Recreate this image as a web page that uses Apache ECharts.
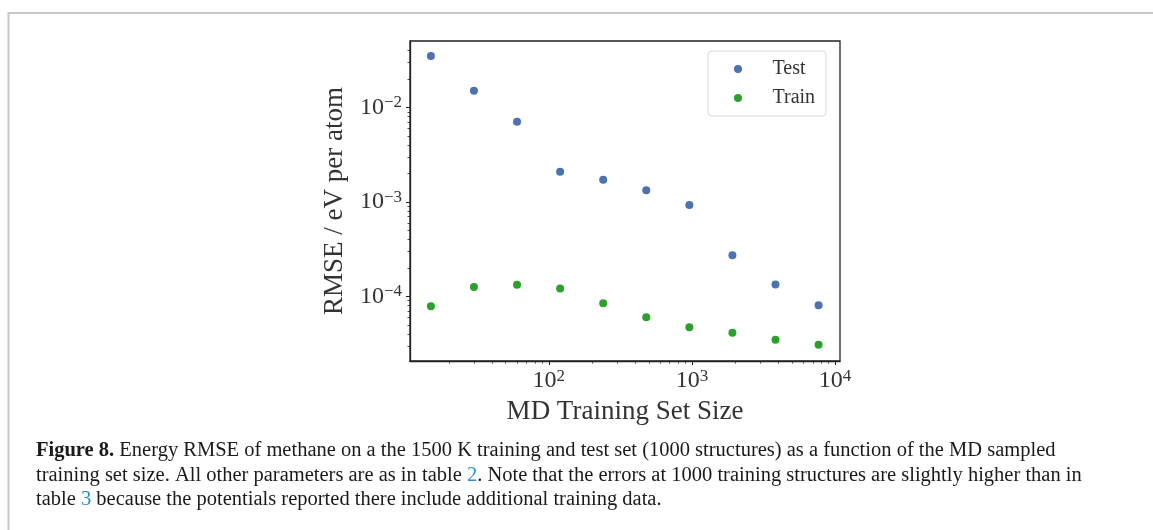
<!DOCTYPE html>
<html><head><meta charset="utf-8">
<script src="https://cdn.jsdelivr.net/npm/echarts@6/dist/echarts.min.js"></script>
<style>html,body{margin:0;padding:0;background:#fff}#c{width:1153px;height:530px}</style>
</head><body><div id="c"></div>
<script>
const trainingSizes = [15, 30, 60, 120, 240, 480, 960, 1920, 3840, 7680];
const testRMSE = [0.0352, 0.0150, 0.00706, 0.00209, 0.00172, 0.00133, 0.00093, 0.000273, 0.000134, 0.0000807];
const trainRMSE = [0.0000787, 0.000126, 0.000133, 0.000121, 0.0000847, 0.0000603, 0.0000472, 0.0000413, 0.0000348, 0.0000308];
const seriesNames = ['Test', 'Train'];
const xMajorTicks = [100, 1000, 10000];
const xMinorTicks = [20, 30, 40, 50, 60, 70, 80, 90, 200, 300, 400, 500, 600, 700, 800, 900, 2000, 3000, 4000, 5000, 6000, 7000, 8000, 9000];
const yMajorTicks = [1e-4, 1e-3, 1e-2];
const yMinorTicks = [3e-5, 4e-5, 5e-5, 6e-5, 7e-5, 8e-5, 9e-5, 2e-4, 3e-4, 4e-4, 5e-4, 6e-4, 7e-4, 8e-4, 9e-4, 2e-3, 3e-3, 4e-3, 5e-3, 6e-3, 7e-3, 8e-3, 9e-3, 2e-2, 3e-2, 4e-2];
const xTitle = 'MD Training Set Size';
const yTitle = 'RMSE / eV per atom';
const captionLines = [
  '{b|Figure 8.} Energy RMSE of methane on a the 1500 K training and test set (1000 structures) as a function of the MD sampled',
  'training set size. All other parameters are as in table {l|2}. Note that the errors at 1000 training structures are slightly higher than in',
  'table {l|3} because the potentials reported there include additional training data.'
];

const serif = '"Liberation Serif", "DejaVu Serif", serif';
const ink = '#333';
const X_MIN = 10.72, X_MAX = 10840, Y_MIN = 2.07e-5, Y_MAX = 0.0506;

function powLabel(v) {
  const e = Math.round(Math.log10(v));
  return '10{sup|' + String(e).replace('-', '\u2212') + '}';
}
const labelRich = {
  sup: { fontSize: 17, fontFamily: serif, color: ink, verticalAlign: 'top', lineHeight: 16 }
};

const chart = echarts.init(document.getElementById('c'), null, { renderer: 'canvas' });
const axisCommon = { splitLine: { show: false }, minorTick: { show: false }, minorSplitLine: { show: false } };
const capFont = 20.5;

chart.setOption({
  animation: false,
  backgroundColor: '#fff',
  grid: { left: 410, top: 41, width: 430, height: 320, show: true, borderColor: '#222', borderWidth: 1.3, backgroundColor: 'transparent' },
  legend: {
    data: seriesNames, orient: 'vertical', left: 708, top: 51,
    icon: 'circle', itemWidth: 59, itemHeight: 8, itemGap: 9,
    padding: [8, 11, 8, 26], borderColor: '#d9d9d9', borderWidth: 1, borderRadius: 4, backgroundColor: '#fff',
    textStyle: { fontSize: 20, fontFamily: serif, color: ink, lineHeight: 20 }
  },
  xAxis: [
    Object.assign({
      type: 'log', logBase: 10, min: X_MIN, max: X_MAX, gridIndex: 0, position: 'bottom',
      name: xTitle, nameLocation: 'middle', nameGap: 32,
      nameTextStyle: { fontSize: 27, fontFamily: serif, color: ink },
      axisLine: { show: true, lineStyle: { color: '#222', width: 1.3 } },
      axisTick: { show: true, inside: false, length: 4, customValues: xMajorTicks, lineStyle: { color: '#222', width: 1 } },
      axisLabel: { show: true, customValues: xMajorTicks, margin: 7, formatter: powLabel, fontSize: 24, fontFamily: serif, color: ink, lineHeight: 26, rich: labelRich }
    }, axisCommon),
    Object.assign({
      type: 'log', logBase: 10, min: X_MIN, max: X_MAX, gridIndex: 0, position: 'bottom',
      axisLine: { show: false },
      axisTick: { show: true, inside: false, length: 2.5, customValues: xMinorTicks, lineStyle: { color: '#222', width: 0.8 } },
      axisLabel: { show: false }
    }, axisCommon)
  ],
  yAxis: [
    Object.assign({
      type: 'log', logBase: 10, min: Y_MIN, max: Y_MAX, gridIndex: 0, position: 'left',
      name: yTitle, nameLocation: 'middle', nameGap: 62,
      nameTextStyle: { fontSize: 27, fontFamily: serif, color: ink },
      axisLine: { show: true, lineStyle: { color: '#222', width: 1.3 } },
      axisTick: { show: true, inside: false, length: 4, customValues: yMajorTicks, lineStyle: { color: '#222', width: 1 } },
      axisLabel: { show: true, customValues: yMajorTicks, margin: 8, formatter: powLabel, fontSize: 24, fontFamily: serif, color: ink, lineHeight: 26, rich: labelRich }
    }, axisCommon),
    Object.assign({
      type: 'log', logBase: 10, min: Y_MIN, max: Y_MAX, gridIndex: 0, position: 'left',
      axisLine: { show: false },
      axisTick: { show: true, inside: false, length: 2.5, customValues: yMinorTicks, lineStyle: { color: '#222', width: 0.8 } },
      axisLabel: { show: false }
    }, axisCommon)
  ],
  series: [
    { name: seriesNames[0], type: 'scatter', xAxisIndex: 0, yAxisIndex: 0, symbol: 'circle', symbolSize: 8,
      itemStyle: { color: '#4c72b0', opacity: 1 }, data: trainingSizes.map((x, i) => [x, testRMSE[i]]) },
    { name: seriesNames[1], type: 'scatter', xAxisIndex: 0, yAxisIndex: 0, symbol: 'circle', symbolSize: 8,
      itemStyle: { color: '#2ca02c', opacity: 1 }, data: trainingSizes.map((x, i) => [x, trainRMSE[i]]) }
  ],
  graphic: [
    { type: 'line', shape: { x1: 8.5, y1: 13, x2: 1153, y2: 13 }, style: { stroke: '#c8c8c8', lineWidth: 2 } },
    { type: 'line', shape: { x1: 8.5, y1: 12, x2: 8.5, y2: 530 }, style: { stroke: '#c8c8c8', lineWidth: 2 } }
  ].concat(captionLines.map((t, i) => ({
    type: 'text', x: 36, y: [451, 476, 500][i],
    style: {
      text: t, fill: '#1a1a1a', font: capFont + 'px ' + serif, verticalAlign: 'middle',
      rich: {
        b: { fontWeight: 'bold', fontSize: capFont, fontFamily: serif, fill: '#1a1a1a' },
        l: { fontSize: capFont, fontFamily: serif, fill: '#2b8fcf' }
      }
    }
  })))
});
</script>
</body></html>
